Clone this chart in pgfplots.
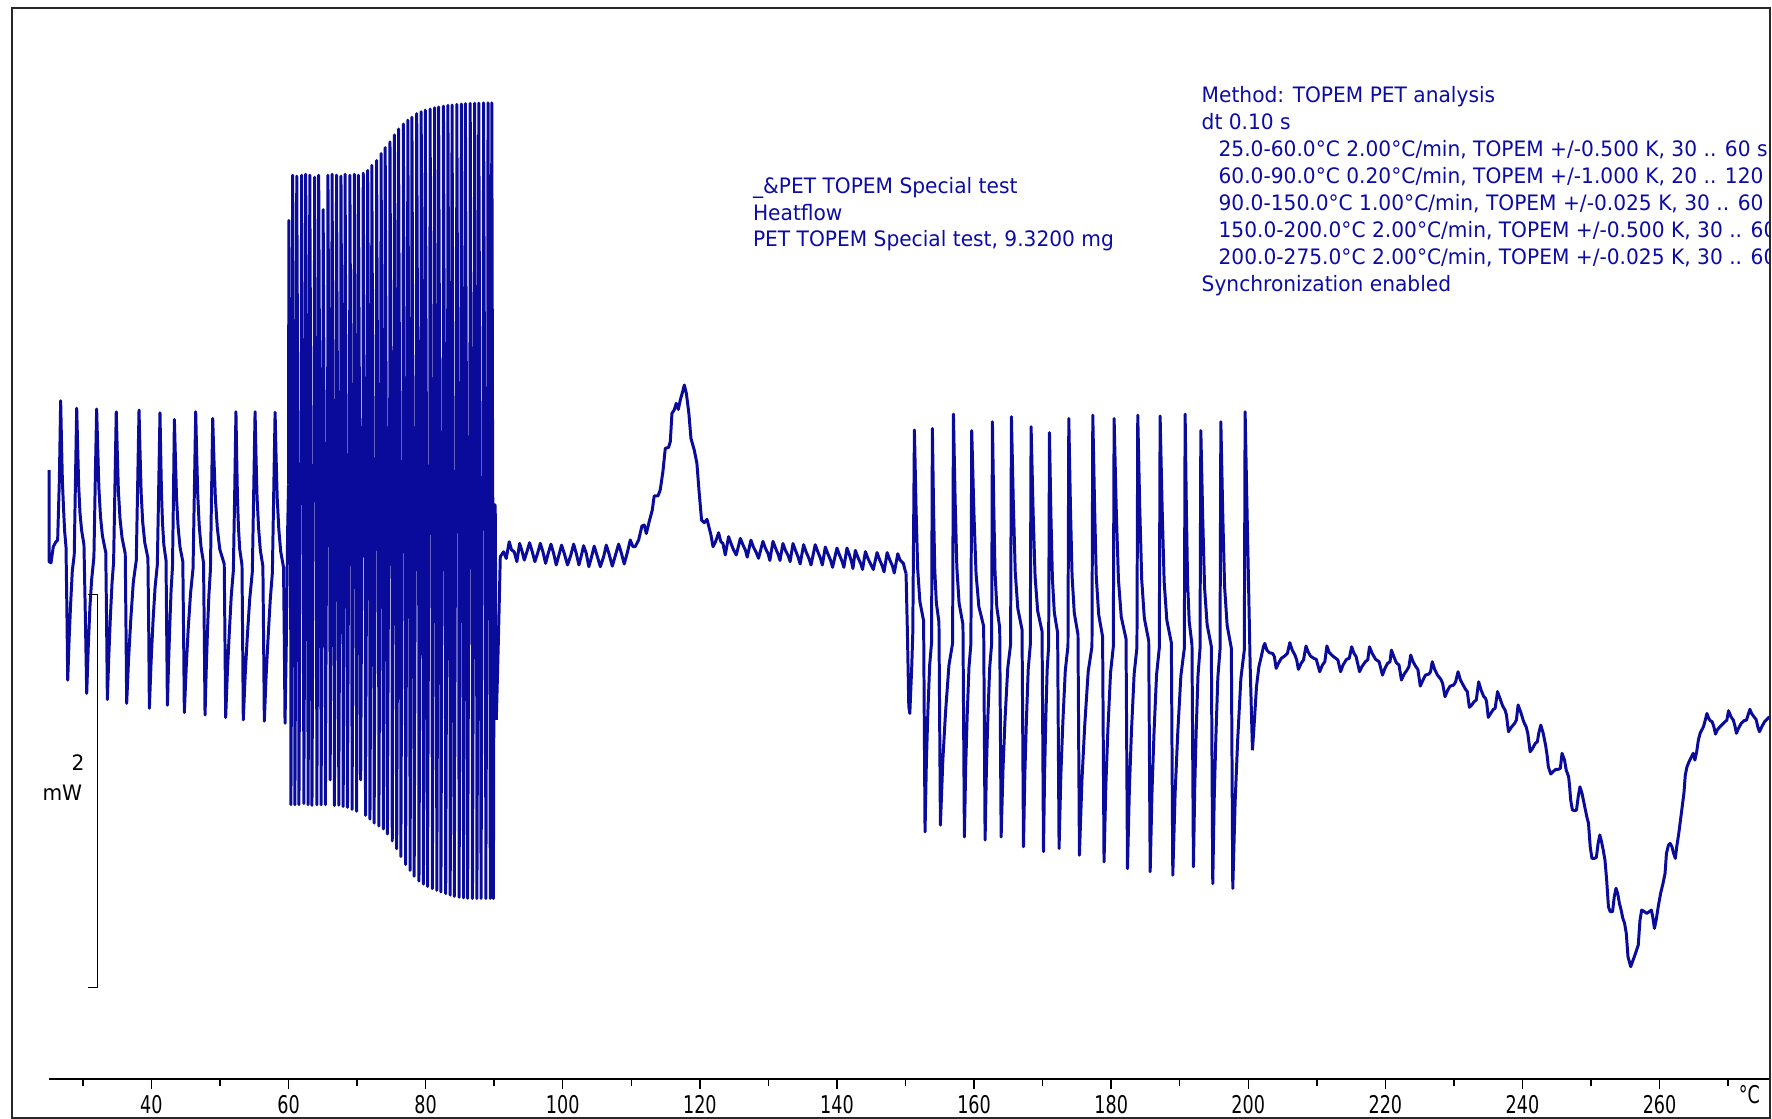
\documentclass[border=0pt]{standalone}
\usepackage{fontspec}
\setmainfont{DejaVu Sans}[FakeStretch=0.95]
\newfontfamily\tickfont{DejaVu Sans}[FakeStretch=0.72]
\usepackage{pgfplots}
\pgfplotsset{compat=1.18}
\definecolor{curveblue}{RGB}{10,10,155}
\definecolor{textblue}{RGB}{12,12,165}
\definecolor{framegray}{RGB}{40,40,40}
\newcommand\annfont{\fontsize{10.7pt}{13.6pt}\selectfont}
\newcommand\tkfont{\tickfont\fontsize{12.3pt}{14pt}\selectfont}

\begin{document}
\begin{tikzpicture}
\begin{axis}[
  scale only axis,
  width=30.46cm, height=18.96cm,
  xmin=25, xmax=276.07, ymin=-2.672, ymax=2.776,
  axis x line=bottom, axis y line=none,
  x axis line style={-, line width=0.9pt, black},
  tick align=outside,
  xtick={40,60,...,260},
  xticklabels={40,60,80,100,120,140,160,180,200,220,240,260},
  minor xtick={30,50,...,270},
  major tick length=0.18cm, minor tick length=0.125cm,
  tick style={black, line width=0.7pt},
  xticklabel style={font=\tkfont, anchor=north, inner sep=0pt, yshift=-0.1cm},
  extra x ticks={273.1}, extra x tick labels={°C},
  extra x tick style={major tick length=0pt},
  clip=false,
]
% heat flow signal, 25-60 C segment
\addplot[curveblue, line width=1.5pt, line join=round, mark=none] coordinates {
(25.07,0.425) (25.07,-0.040) (25.35,-0.046) (25.69,0.036) (26.07,0.061) (26.32,0.069) (26.57,0.375) (26.76,0.778)
(26.88,0.575) (27.01,0.374) (27.18,0.230) (27.34,0.115) (27.54,0.034) (27.67,-0.287) (27.79,-0.643) (28.00,-0.431) (28.21,-0.259) (28.46,-0.086) (28.74,-0.006) (28.92,0.374) (29.10,0.740)
(29.24,0.546) (29.39,0.345) (29.58,0.207) (29.81,0.121) (30.16,0.046) (30.36,-0.316) (30.56,-0.710) (30.79,-0.471) (31.03,-0.270) (31.28,-0.132) (31.51,-0.052) (31.61,-0.017) (31.81,0.374) (32.01,0.736)
(32.17,0.534) (32.34,0.333) (32.57,0.190) (32.85,0.092) (33.34,0.006) (33.46,-0.345) (33.57,-0.741) (33.79,-0.517) (34.02,-0.316) (34.26,-0.144) (34.48,-0.046) (34.68,0.345) (34.87,0.722)
(35.02,0.517) (35.18,0.322) (35.42,0.178) (35.72,0.080) (36.18,0.000) (36.29,-0.374) (36.39,-0.761) (36.67,-0.534) (37.00,-0.328) (37.36,-0.144) (37.79,-0.034) (37.99,0.345) (38.19,0.731)
(38.34,0.517) (38.50,0.310) (38.73,0.161) (39.03,0.057) (39.49,-0.023) (39.61,-0.402) (39.70,-0.786) (39.95,-0.552) (40.23,-0.345) (40.53,-0.172) (40.86,-0.057) (41.06,0.333) (41.25,0.717)
(41.35,0.517) (41.47,0.305) (41.62,0.155) (41.81,0.046) (42.13,-0.034) (42.23,-0.402) (42.33,-0.770) (42.51,-0.546) (42.69,-0.356) (42.87,-0.184) (43.07,-0.069) (43.22,0.305) (43.35,0.683)
(43.50,0.488) (43.66,0.287) (43.89,0.138) (44.17,0.034) (44.58,-0.040) (44.70,-0.431) (44.80,-0.807) (45.08,-0.575) (45.38,-0.374) (45.71,-0.201) (46.07,-0.075) (46.27,0.328) (46.46,0.722)
(46.60,0.511) (46.76,0.299) (46.97,0.144) (47.24,0.034) (47.60,-0.046) (47.72,-0.431) (47.82,-0.820) (48.00,-0.586) (48.18,-0.391) (48.38,-0.213) (48.61,-0.080) (48.77,0.305) (48.94,0.688)
(49.12,0.483) (49.33,0.282) (49.61,0.132) (49.97,0.023) (50.62,-0.052) (50.73,-0.443) (50.83,-0.833) (51.08,-0.603) (51.36,-0.402) (51.64,-0.218) (51.95,-0.086) (52.15,0.316) (52.33,0.722)
(52.43,0.506) (52.55,0.287) (52.69,0.138) (52.88,0.023) (53.21,-0.057) (53.31,-0.448) (53.40,-0.845) (53.68,-0.615) (54.00,-0.414) (54.34,-0.230) (54.72,-0.092) (54.92,0.316) (55.12,0.722)
(55.25,0.506) (55.41,0.287) (55.63,0.132) (55.89,0.017) (56.26,-0.063) (56.37,-0.460) (56.47,-0.851) (56.73,-0.621) (57.03,-0.420) (57.33,-0.236) (57.64,-0.098) (57.84,0.310) (58.04,0.719)
(58.18,0.500) (58.35,0.282) (58.58,0.126) (58.86,0.011) (59.27,-0.069) (59.39,-0.460) (59.49,-0.862) (59.70,-0.402) (59.87,0.115) (60.00,0.353)
};
% 60-90 C segment: dense stochastic pulses
\addplot[curveblue, line width=1.5pt, line join=round, mark=none] coordinates {
(60.00,0.353) (60.05,1.695) (60.24,0.373) (60.30,0.313) (60.35,-1.276) (60.54,0.293)
(60.55,0.352) (60.60,1.925) (60.79,0.372) (60.88,0.312) (60.93,-1.276) (61.12,0.292)
(61.15,0.350) (61.20,1.920) (61.39,0.370) (61.47,0.310) (61.52,-1.276) (61.71,0.290)
(61.85,0.348) (61.90,1.925) (62.09,0.368) (62.18,0.308) (62.23,-1.270) (62.42,0.288)
(62.45,0.347) (62.50,1.930) (62.69,0.367) (62.80,0.307) (62.85,-1.276) (63.04,0.287)
(63.05,0.345) (63.10,1.925) (63.29,0.365) (63.37,0.305) (63.42,-1.280) (63.61,0.285)
(63.75,0.344) (63.80,1.915) (63.99,0.364) (64.08,0.304) (64.13,-1.276) (64.32,0.284)
(64.35,0.342) (64.40,1.925) (64.59,0.362) (64.70,0.302) (64.75,-1.276) (64.94,0.282)
(65.00,0.341) (65.05,1.750) (65.24,0.361) (65.33,0.301) (65.38,-1.276) (65.57,0.281)
(65.70,0.339) (65.75,1.925) (65.94,0.359) (66.02,0.299) (66.07,-1.150) (66.26,0.279)
(66.30,0.338) (66.35,1.930) (66.54,0.358) (66.64,0.298) (66.69,-1.280) (66.88,0.278)
(66.95,0.336) (67.00,1.925) (67.19,0.356) (67.28,0.296) (67.33,-1.278) (67.52,0.276)
(67.60,0.334) (67.65,1.920) (67.84,0.354) (67.92,0.294) (67.97,-1.285) (68.16,0.274)
(68.20,0.333) (68.25,1.930) (68.44,0.353) (68.55,0.293) (68.60,-1.290) (68.79,0.273)
(68.90,0.331) (68.95,1.925) (69.14,0.351) (69.22,0.291) (69.27,-1.300) (69.46,0.271)
(69.55,0.330) (69.60,1.930) (69.79,0.350) (69.88,0.290) (69.93,-1.310) (70.12,0.270)
(70.15,0.328) (70.20,1.925) (70.39,0.348) (70.48,0.288) (70.53,-1.150) (70.72,0.268)
(70.85,0.326) (70.90,1.935) (71.09,0.346) (71.18,0.286) (71.23,-1.330) (71.42,0.266)
(71.50,0.325) (71.55,1.950) (71.74,0.345) (71.83,0.285) (71.88,-1.350) (72.07,0.265)
(72.10,0.323) (72.15,1.975) (72.34,0.343) (72.44,0.283) (72.49,-1.370) (72.68,0.263)
(72.80,0.321) (72.85,2.000) (73.04,0.341) (73.13,0.281) (73.18,-1.385) (73.37,0.261)
(73.45,0.320) (73.50,2.035) (73.69,0.340) (73.78,0.280) (73.83,-1.400) (74.02,0.260)
(74.05,0.318) (74.10,2.065) (74.29,0.338) (74.38,0.278) (74.43,-1.425) (74.62,0.258)
(74.75,0.317) (74.80,2.095) (74.99,0.337) (75.08,0.277) (75.13,-1.460) (75.32,0.257)
(75.40,0.315) (75.45,2.130) (75.64,0.335) (75.73,0.275) (75.78,-1.500) (75.97,0.255)
(76.00,0.314) (76.05,2.160) (76.24,0.334) (76.34,0.274) (76.39,-1.540) (76.58,0.254)
(76.70,0.312) (76.75,2.185) (76.94,0.332) (77.03,0.272) (77.08,-1.580) (77.27,0.252)
(77.35,0.310) (77.40,2.205) (77.59,0.330) (77.68,0.270) (77.73,-1.610) (77.92,0.250)
(77.95,0.309) (78.00,2.220) (78.19,0.329) (78.28,0.269) (78.33,-1.640) (78.52,0.249)
(78.65,0.307) (78.70,2.238) (78.89,0.327) (78.98,0.267) (79.03,-1.665) (79.22,0.247)
(79.30,0.306) (79.35,2.248) (79.54,0.326) (79.63,0.266) (79.68,-1.680) (79.87,0.246)
(79.90,0.304) (79.95,2.256) (80.14,0.324) (80.23,0.264) (80.28,-1.692) (80.47,0.244)
(80.60,0.302) (80.65,2.262) (80.84,0.322) (80.93,0.262) (80.98,-1.703) (81.17,0.242)
(81.25,0.301) (81.30,2.268) (81.49,0.321) (81.58,0.261) (81.63,-1.712) (81.82,0.241)
(81.85,0.299) (81.90,2.272) (82.09,0.319) (82.18,0.259) (82.23,-1.720) (82.42,0.239)
(82.55,0.298) (82.60,2.276) (82.79,0.318) (82.88,0.258) (82.93,-1.728) (83.12,0.238)
(83.20,0.296) (83.25,2.280) (83.44,0.316) (83.53,0.256) (83.58,-1.736) (83.77,0.236)
(83.80,0.295) (83.85,2.282) (84.04,0.315) (84.13,0.255) (84.18,-1.742) (84.37,0.235)
(84.50,0.293) (84.55,2.285) (84.74,0.313) (84.83,0.253) (84.88,-1.747) (85.07,0.233)
(85.15,0.292) (85.20,2.287) (85.39,0.312) (85.48,0.252) (85.53,-1.750) (85.72,0.232)
(85.75,0.290) (85.80,2.289) (85.99,0.310) (86.08,0.250) (86.13,-1.752) (86.32,0.230)
(86.45,0.288) (86.50,2.290) (86.69,0.308) (86.78,0.248) (86.83,-1.753) (87.02,0.228)
(87.10,0.287) (87.15,2.291) (87.34,0.307) (87.43,0.247) (87.48,-1.753) (87.67,0.227)
(87.70,0.285) (87.75,2.292) (87.94,0.305) (88.03,0.245) (88.08,-1.753) (88.27,0.225)
(88.40,0.284) (88.45,2.293) (88.64,0.304) (88.73,0.244) (88.78,-1.753) (88.97,0.224)
(89.05,0.282) (89.10,2.293) (89.29,0.302) (89.38,0.242) (89.43,-1.753) (89.58,0.222)
(89.60,0.281) (89.65,2.293) (89.78,0.301) (89.83,0.241) (89.88,-1.753) (90.02,0.250)
(90.15,0.245) (90.31,-0.845)
};
% 90-150 C segment with cold crystallisation
\addplot[curveblue, line width=1.5pt, line join=round, mark=none] coordinates {
(90.31,-0.845) (90.64,-0.402) (90.89,-0.015) (91.37,0.010) (91.76,-0.024) (92.19,0.061) (92.54,0.019) (92.92,0.010)
(93.31,-0.040) (93.71,0.053) (94.09,0.010) (94.39,-0.032) (94.78,0.010) (95.16,0.056) (95.56,0.010) (95.93,-0.040)
(96.33,0.002) (96.73,0.053) (97.11,0.010) (97.50,-0.049) (97.88,0.002) (98.28,0.049) (98.67,0.002) (99.05,-0.057)
(99.45,-0.006) (99.83,0.044) (100.22,0.002) (100.70,-0.057) (101.19,-0.006) (101.59,0.049) (101.97,0.002) (102.36,-0.057)
(102.74,-0.006) (103.04,0.041) (103.43,0.002) (103.81,-0.066) (104.21,-0.015) (104.59,0.039) (104.98,-0.006) (105.48,-0.066)
(105.97,-0.015) (106.35,0.044) (106.73,0.002) (107.23,-0.063) (107.70,-0.006) (108.15,0.049) (108.53,0.006) (108.97,-0.052)
(109.45,0.010) (109.85,0.070) (110.24,0.036) (110.57,0.036) (111.07,0.070) (111.55,0.141) (111.89,0.146) (112.19,0.103)
(112.67,0.171) (113.06,0.222) (113.34,0.294) (113.89,0.294) (114.22,0.324) (114.61,0.417) (114.96,0.536) (115.44,0.541)
(115.69,0.570) (115.93,0.714) (116.26,0.731) (116.56,0.765) (116.86,0.734) (117.15,0.782) (117.53,0.829) (117.73,0.858)
(118.03,0.816) (118.40,0.714) (118.70,0.587) (119.18,0.528) (119.57,0.460) (119.87,0.324) (120.25,0.171) (120.65,0.158)
(121.04,0.175) (121.32,0.137) (121.62,0.095) (121.92,0.036) (122.29,0.061) (122.74,0.107) (123.07,0.061) (123.36,0.053)
(123.71,-0.006) (124.19,0.087) (124.54,0.053) (124.93,0.019) (125.31,-0.006) (125.91,0.078) (126.28,0.046) (126.66,0.017)
(126.91,-0.017) (127.45,0.069) (127.82,0.034) (128.23,0.006) (128.56,-0.023) (129.20,0.063) (129.55,0.029) (129.96,0.000)
(130.21,-0.034) (130.67,0.063) (131.04,0.029) (131.45,-0.006) (131.69,-0.034) (132.12,0.052) (132.49,0.017) (132.90,-0.011)
(133.17,-0.040) (133.59,0.052) (133.95,0.017) (134.33,-0.017) (134.63,-0.052) (135.14,0.046) (135.48,0.011) (135.90,-0.023)
(136.22,-0.057) (136.83,0.046) (137.20,0.011) (137.59,-0.023) (137.87,-0.057) (138.30,0.034) (138.67,0.000) (139.08,-0.034)
(139.36,-0.069) (140.00,0.029) (140.37,-0.006) (140.76,-0.040) (141.01,-0.069) (141.46,0.029) (141.82,-0.006) (142.12,-0.040)
(142.33,-0.075) (142.68,0.017) (143.04,-0.017) (143.49,-0.052) (143.73,-0.080) (144.15,0.011) (144.51,-0.023) (144.97,-0.057)
(145.30,-0.080) (145.85,0.006) (146.21,-0.029) (146.62,-0.063) (146.87,-0.092) (147.32,0.006) (147.68,-0.029) (148.11,-0.063)
(148.36,-0.098) (148.87,0.000) (149.21,-0.032) (149.69,-0.049) (149.93,-0.083) (150.08,-0.100)
};
% 150-200 C segment
\addplot[curveblue, line width=1.5pt, line join=round, mark=none] coordinates {
(150.08,-0.100) (150.28,-0.405) (150.48,-0.778) (150.63,-0.812) (150.91,-0.575) (151.06,-0.405) (151.30,0.629)
(151.54,0.231) (151.78,-0.079) (152.10,-0.244) (152.64,-0.341) (152.85,-1.414) (153.04,-1.068) (153.25,-0.818) (153.52,-0.568) (153.80,-0.453) (153.92,0.637)
(154.09,0.233) (154.27,-0.082) (154.50,-0.250) (154.88,-0.348) (155.09,-1.380) (155.45,-1.047) (155.84,-0.806) (156.34,-0.566) (156.87,-0.455) (156.99,0.710)
(157.24,0.272) (157.49,-0.070) (157.82,-0.252) (158.38,-0.359) (158.59,-1.440) (158.78,-1.086) (158.99,-0.831) (159.26,-0.576) (159.54,-0.458) (159.66,0.626)
(159.97,0.218) (160.29,-0.100) (160.70,-0.269) (161.40,-0.368) (161.61,-1.456) (161.80,-1.097) (162.01,-0.838) (162.28,-0.580) (162.56,-0.460) (162.68,0.671)
(162.87,0.242) (163.06,-0.093) (163.32,-0.271) (163.74,-0.376) (163.95,-1.440) (164.23,-1.088) (164.53,-0.834) (164.92,-0.579) (165.33,-0.462) (165.45,0.697)
(165.73,0.253) (166.01,-0.094) (166.38,-0.278) (167.00,-0.386) (167.21,-1.490) (167.41,-1.121) (167.63,-0.854) (167.90,-0.588) (168.20,-0.465) (168.32,0.646)
(168.61,0.219) (168.90,-0.114) (169.28,-0.291) (169.92,-0.395) (170.13,-1.515) (170.28,-1.138) (170.45,-0.865) (170.66,-0.593) (170.88,-0.467) (171.00,0.616)
(171.21,0.199) (171.43,-0.127) (171.71,-0.300) (172.19,-0.402) (172.40,-1.499) (172.66,-1.128) (172.95,-0.860) (173.31,-0.593) (173.70,-0.469) (173.82,0.688)
(174.06,0.237) (174.30,-0.114) (174.62,-0.301) (175.16,-0.411) (175.37,-1.533) (175.74,-1.151) (176.14,-0.875) (176.65,-0.599) (177.20,-0.472) (177.32,0.705)
(177.58,0.243) (177.83,-0.118) (178.18,-0.309) (178.75,-0.422) (178.96,-1.567) (179.23,-1.174) (179.53,-0.889) (179.91,-0.605) (180.31,-0.474) (180.43,0.688)
(180.74,0.228) (181.06,-0.130) (181.47,-0.321) (182.17,-0.433) (182.38,-1.601) (182.66,-1.196) (182.96,-0.904) (183.35,-0.612) (183.76,-0.477) (183.88,0.705)
(184.17,0.234) (184.46,-0.133) (184.84,-0.328) (185.48,-0.443) (185.69,-1.617) (185.96,-1.208) (186.25,-0.912) (186.62,-0.616) (187.02,-0.480) (187.14,0.700)
(187.44,0.227) (187.73,-0.142) (188.12,-0.338) (188.78,-0.453) (188.99,-1.634) (189.33,-1.219) (189.70,-0.920) (190.17,-0.620) (190.67,-0.482) (190.79,0.710)
(190.97,0.229) (191.15,-0.146) (191.39,-0.346) (191.79,-0.463) (192.00,-1.592) (192.19,-1.193) (192.40,-0.905) (192.67,-0.617) (192.96,-0.484) (193.08,0.626)
(193.36,0.176) (193.63,-0.175) (194.00,-0.361) (194.61,-0.471) (194.82,-1.677) (195.03,-1.249) (195.27,-0.939) (195.56,-0.630) (195.88,-0.487) (196.00,0.671)
(196.28,0.199) (196.55,-0.169) (196.92,-0.365) (197.53,-0.480) (197.74,-1.702) (198.08,-1.266) (198.45,-0.951) (198.92,-0.635) (199.42,-0.490) (199.54,0.722)
(199.79,0.273) (200.04,-0.151) (200.28,-0.575) (200.61,-0.999)
};
% 200-275 C segment with melting
\addplot[curveblue, line width=1.5pt, line join=round, mark=none] coordinates {
(200.61,-0.999) (200.90,-0.846) (201.20,-0.676) (201.55,-0.574) (201.90,-0.523) (202.21,-0.473) (202.41,-0.456) (202.71,-0.490)
(203.06,-0.503) (203.56,-0.507) (203.81,-0.523) (204.06,-0.583) (204.41,-0.557) (204.81,-0.532) (205.31,-0.520) (205.71,-0.507)
(206.06,-0.452) (206.41,-0.490) (206.81,-0.515) (207.06,-0.540) (207.31,-0.588) (207.71,-0.557) (208.06,-0.540) (208.42,-0.469)
(208.72,-0.498) (209.07,-0.520) (209.57,-0.532) (209.92,-0.537) (210.42,-0.600) (210.82,-0.566) (211.17,-0.549) (211.47,-0.469)
(211.82,-0.503) (212.32,-0.520) (213.07,-0.540) (213.47,-0.600) (213.82,-0.566) (214.32,-0.537) (214.73,-0.532) (215.08,-0.473)
(215.43,-0.507) (215.73,-0.523) (216.23,-0.600) (216.58,-0.574) (217.08,-0.549) (217.43,-0.540) (217.68,-0.473) (218.08,-0.507)
(218.58,-0.537) (219.08,-0.549) (219.58,-0.617) (219.93,-0.583) (220.33,-0.557) (220.68,-0.549) (220.88,-0.490) (221.24,-0.523)
(221.59,-0.554) (221.99,-0.566) (222.34,-0.642) (222.74,-0.612) (223.09,-0.595) (223.44,-0.574) (223.69,-0.515) (224.04,-0.549)
(224.44,-0.574) (224.74,-0.588) (225.09,-0.673) (225.49,-0.642) (225.84,-0.617) (226.34,-0.612) (226.59,-0.600) (226.84,-0.549)
(227.19,-0.588) (227.60,-0.617) (228.10,-0.639) (228.35,-0.659) (228.70,-0.727) (229.10,-0.693) (229.45,-0.673) (229.95,-0.668)
(230.25,-0.651) (230.60,-0.600) (230.95,-0.642) (231.35,-0.668) (231.70,-0.690) (231.95,-0.701) (232.25,-0.781) (232.60,-0.769)
(232.95,-0.752) (233.26,-0.744) (233.61,-0.651) (233.96,-0.693) (234.36,-0.727) (234.61,-0.735) (234.76,-0.752) (235.01,-0.832)
(235.36,-0.812) (235.76,-0.791) (236.01,-0.786) (236.36,-0.701) (236.71,-0.735) (237.11,-0.774) (237.46,-0.795) (237.66,-0.820)
(237.96,-0.905) (238.36,-0.883) (238.86,-0.862) (239.11,-0.846) (239.36,-0.769) (239.77,-0.808) (240.17,-0.854) (240.52,-0.879)
(240.77,-0.913) (241.12,-1.007) (241.47,-0.990) (241.87,-0.964) (242.17,-0.956) (242.37,-0.913) (242.67,-0.871) (243.02,-0.913)
(243.37,-0.973) (243.62,-1.032) (243.77,-1.083) (244.12,-1.120) (244.47,-1.108) (244.87,-1.096) (245.27,-1.096) (245.52,-1.091)
(245.77,-1.015) (246.13,-1.049) (246.38,-1.100) (246.73,-1.134) (246.88,-1.185) (247.03,-1.252) (247.28,-1.303) (247.63,-1.307)
(247.88,-1.303) (248.13,-1.235) (248.38,-1.185) (248.68,-1.218) (248.98,-1.269) (249.38,-1.337) (249.63,-1.371) (249.88,-1.490)
(250.13,-1.549) (250.48,-1.549) (250.78,-1.544) (251.03,-1.473) (251.28,-1.430) (251.53,-1.464) (251.78,-1.507) (252.03,-1.557)
(252.28,-1.659) (252.54,-1.795) (252.79,-1.820) (253.14,-1.820) (253.39,-1.744) (253.64,-1.701) (253.89,-1.727) (254.14,-1.778)
(254.39,-1.812) (254.64,-1.854) (254.89,-1.879) (255.14,-1.930) (255.39,-2.049) (255.79,-2.100) (256.14,-2.066) (256.49,-2.032)
(256.89,-1.990) (257.14,-1.863) (257.39,-1.812) (257.79,-1.820) (258.14,-1.829) (258.50,-1.820) (258.80,-1.812) (259.00,-1.846)
(259.25,-1.905) (259.50,-1.863) (259.80,-1.795) (260.15,-1.727) (260.50,-1.676) (260.80,-1.625) (261.00,-1.524) (261.30,-1.481)
(261.55,-1.473) (261.80,-1.490) (262.05,-1.524) (262.30,-1.549) (262.50,-1.490) (262.80,-1.422) (263.05,-1.354) (263.30,-1.286)
(263.55,-1.218) (263.75,-1.125) (264.00,-1.083) (264.30,-1.057) (264.65,-1.032) (264.90,-1.015) (265.15,-1.049) (265.41,-1.007)
(265.66,-0.947) (265.91,-0.913) (266.16,-0.896) (266.41,-0.879) (266.66,-0.846) (266.91,-0.812) (267.16,-0.837) (267.41,-0.849)
(267.66,-0.854) (267.91,-0.879) (268.16,-0.917) (268.41,-0.896) (268.91,-0.876) (269.41,-0.859) (269.81,-0.846) (270.06,-0.798)
(270.41,-0.829) (270.76,-0.846) (271.01,-0.879) (271.21,-0.913) (271.51,-0.888) (271.92,-0.862) (272.32,-0.849) (272.67,-0.846)
(273.17,-0.791) (273.42,-0.812) (273.77,-0.829) (274.07,-0.842) (274.32,-0.879) (274.57,-0.905) (274.92,-0.879) (275.32,-0.854)
(275.67,-0.842) (276.02,-0.829)
};
% 2 mW scale bar
\draw[black, line width=0.7pt] (axis cs:30.70,-0.207) -- (axis cs:32.17,-0.207) -- (axis cs:32.17,-2.207) -- (axis cs:30.70,-2.207);
\node[anchor=base east, inner sep=0pt, font=\annfont, text=black] at (axis cs:30.28,-1.103) {2};
\node[anchor=base east, inner sep=0pt, font=\annfont, text=black] at (axis cs:29.95,-1.256) {mW};
% curve and method annotations
\begin{scope}
\clip (axis cs:19.64,-2.868) rectangle (axis cs:276.07,2.776);
\begin{scope}[every node/.style={anchor=base west, inner sep=0pt, font=\annfont, text=textblue}]
\node at (axis cs:127.70,1.832) {\_\&PET TOPEM Special test};
\node at (axis cs:127.70,1.697) {Heatflow};
\node at (axis cs:127.70,1.561) {PET TOPEM Special test, 9.3200 mg};
\node at (axis cs:193.15,2.295) {Method: TOPEM PET analysis};
\node at (axis cs:193.15,2.158) {dt 0.10 s};
\node at (axis cs:195.62,2.021) {25.0-60.0°C 2.00°C/min, TOPEM +/-0.500 K, 30 .. 60 s};
\node at (axis cs:195.62,1.883) {60.0-90.0°C 0.20°C/min, TOPEM +/-1.000 K, 20 .. 120 s};
\node at (axis cs:195.62,1.746) {90.0-150.0°C 1.00°C/min, TOPEM +/-0.025 K, 30 .. 60 s};
\node at (axis cs:195.62,1.609) {150.0-200.0°C 2.00°C/min, TOPEM +/-0.500 K, 30 .. 60 s};
\node at (axis cs:195.62,1.472) {200.0-275.0°C 2.00°C/min, TOPEM +/-0.025 K, 30 .. 60 s};
\node at (axis cs:193.15,1.335) {Synchronization enabled};
\end{scope}
\end{scope}
% outer frame
\draw[framegray, line width=1pt] (axis cs:19.64,-2.868) rectangle (axis cs:276.07,2.776);
\coordinate (bbsw) at (axis cs:17.911,-2.874);
\coordinate (bbne) at (axis cs:276.40,2.816);
\end{axis}
\pgfresetboundingbox
\path[use as bounding box] (bbsw) rectangle (bbne);
\end{tikzpicture}
\end{document}
